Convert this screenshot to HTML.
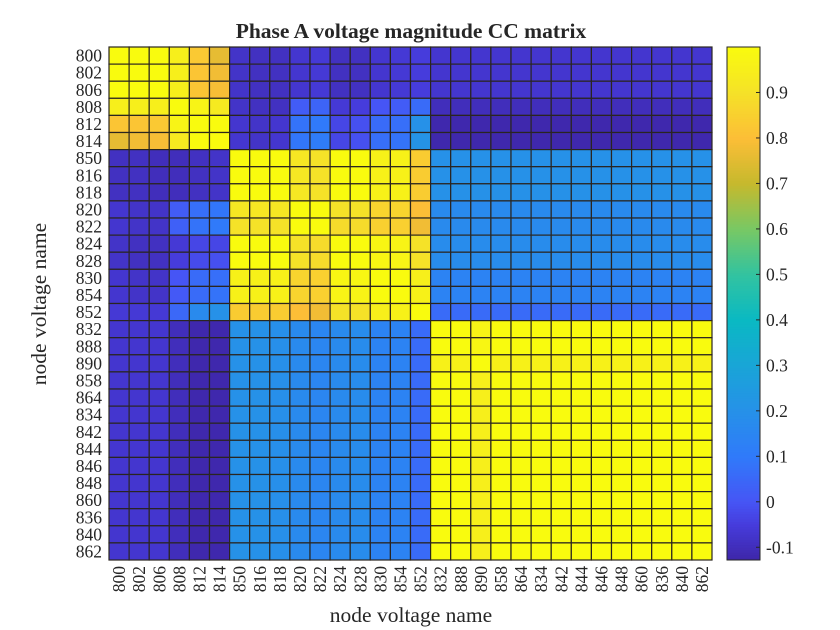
<!DOCTYPE html>
<html><head><meta charset="utf-8"><style>
html,body{margin:0;padding:0;background:#fff;}
svg{display:block;font-family:"Liberation Serif",serif;}
</style></head><body>
<svg id="chart" width="840" height="630" viewBox="0 0 840 630" xmlns="http://www.w3.org/2000/svg">
<rect width="840" height="630" fill="#fff"/>
<text x="411" y="38" text-anchor="middle" font-size="21.5" font-weight="bold" fill="#262626">Phase A voltage magnitude CC matrix</text>
<g id="cells"></g>
<g id="ylabels"></g>
<g id="xlabels"></g>
<text x="411" y="622" text-anchor="middle" font-size="21.5" fill="#262626">node voltage name</text>
<text transform="translate(46,304) rotate(-90)" text-anchor="middle" font-size="21.5" fill="#262626">node voltage name</text>
<g id="colorbar"></g>
</svg>
<script>
const nodes = ["800","802","806","808","812","814","850","816","818","820","822","824","828","830","854","852","832","888","890","858","864","834","842","844","846","848","860","836","840","862"];
const cbTicks = [-0.1,0,0.1,0.2,0.3,0.4,0.5,0.6,0.7,0.8,0.9];
const cbTickLabels = ["-0.1","0","0.1","0.2","0.3","0.4","0.5","0.6","0.7","0.8","0.9"];
const cMin = -0.128, cMax = 1.0;
const values = [
[1,1,1,.95,.83,.76,-.08,-.09,-.09,-.07,-.06,-.09,-.09,-.07,-.06,-.05,-.07,-.07,-.07,-.07,-.07,-.07,-.07,-.07,-.07,-.07,-.07,-.07,-.07,-.07],
[1,1,1,.95,.82,.78,-.08,-.09,-.09,-.07,-.06,-.09,-.09,-.07,-.06,-.05,-.07,-.07,-.07,-.07,-.07,-.07,-.07,-.07,-.07,-.07,-.07,-.07,-.07,-.07],
[1,1,1,.95,.82,.79,-.08,-.09,-.09,-.07,-.06,-.09,-.09,-.07,-.06,-.05,-.07,-.07,-.07,-.07,-.07,-.07,-.07,-.07,-.07,-.07,-.07,-.07,-.07,-.07],
[.95,.95,.95,1,.97,.93,-.08,-.09,-.09,.02,.04,-.06,-.05,0,.02,.06,-.1,-.1,-.1,-.1,-.1,-.1,-.1,-.1,-.1,-.1,-.1,-.1,-.1,-.1],
[.82,.82,.83,.97,1,1,-.07,-.08,-.07,.08,.1,-.03,-.01,.06,.07,.2,-.12,-.12,-.12,-.12,-.12,-.12,-.12,-.12,-.12,-.12,-.12,-.12,-.12,-.12],
[.76,.78,.79,.93,1,1,-.07,-.08,-.07,.09,.11,-.03,-.01,.07,.08,.21,-.12,-.12,-.12,-.12,-.12,-.12,-.12,-.12,-.12,-.12,-.12,-.12,-.12,-.12],
[-.09,-.09,-.1,-.1,-.09,-.08,1,1,1,.92,.9,1,1,.96,.96,.84,.2,.2,.2,.2,.2,.2,.2,.2,.2,.2,.2,.2,.2,.2],
[-.09,-.09,-.1,-.1,-.09,-.08,1,1,1,.92,.9,1,1,.96,.96,.84,.2,.2,.2,.2,.2,.2,.2,.2,.2,.2,.2,.2,.2,.2],
[-.09,-.09,-.1,-.1,-.09,-.08,1,1,1,.92,.9,1,1,.96,.96,.84,.2,.2,.2,.2,.2,.2,.2,.2,.2,.2,.2,.2,.2,.2],
[-.07,-.08,-.08,.02,.07,.09,.92,.92,.92,1,1,.9,.9,.86,.86,.8,.17,.17,.17,.17,.17,.17,.17,.17,.17,.17,.17,.17,.17,.17],
[-.07,-.08,-.08,.03,.08,.1,.9,.9,.9,1,1,.88,.88,.85,.85,.78,.17,.17,.17,.17,.17,.17,.17,.17,.17,.17,.17,.17,.17,.17],
[-.08,-.09,-.09,-.06,-.03,-.03,1,1,1,.9,.88,1,1,.98,.97,.9,.18,.18,.18,.18,.18,.18,.18,.18,.18,.18,.18,.18,.18,.18],
[-.08,-.09,-.09,-.05,-.02,-.01,1,1,1,.9,.88,1,1,.98,.97,.9,.18,.18,.18,.18,.18,.18,.18,.18,.18,.18,.18,.18,.18,.18],
[-.07,-.08,-.08,0,.06,.07,.96,.96,.96,.86,.85,.98,.98,1,1,.95,.14,.14,.14,.14,.14,.14,.14,.14,.14,.14,.14,.14,.14,.14],
[-.07,-.08,-.08,.01,.06,.08,.96,.96,.96,.86,.85,.97,.97,1,1,.96,.14,.14,.14,.14,.14,.14,.14,.14,.14,.14,.14,.14,.14,.14],
[-.06,-.06,-.06,.05,.17,.2,.84,.84,.84,.8,.78,.9,.9,.95,.96,1,.06,.06,.06,.06,.06,.06,.06,.06,.06,.06,.06,.06,.06,.06],
[-.07,-.07,-.07,-.1,-.12,-.12,.2,.2,.19,.17,.15,.17,.18,.14,.14,.06,1,1,.97,1,1,1,1,1,1,1,1,1,1,1],
[-.07,-.07,-.07,-.1,-.12,-.12,.2,.2,.19,.17,.15,.17,.18,.14,.14,.06,1,1,.98,1,1,1,1,1,1,1,1,1,1,1],
[-.07,-.07,-.07,-.1,-.12,-.12,.2,.2,.19,.17,.15,.17,.18,.14,.14,.06,.96,.96,1,.96,.96,.96,.96,.96,.96,.96,.96,.96,.96,.96],
[-.07,-.07,-.07,-.1,-.12,-.12,.2,.2,.19,.17,.15,.17,.18,.14,.14,.06,1,1,.95,1,1,1,1,1,1,1,1,1,1,1],
[-.07,-.07,-.07,-.1,-.12,-.12,.2,.2,.19,.17,.15,.17,.18,.14,.14,.06,1,1,.95,1,1,1,1,1,1,1,1,1,1,1],
[-.07,-.07,-.07,-.1,-.12,-.12,.2,.2,.19,.17,.15,.17,.18,.14,.14,.06,1,1,.95,1,1,1,1,1,1,1,1,1,1,1],
[-.07,-.07,-.07,-.1,-.12,-.12,.2,.2,.19,.17,.15,.17,.18,.14,.14,.06,1,1,.95,1,1,1,1,1,1,1,1,1,1,1],
[-.07,-.07,-.07,-.1,-.12,-.12,.2,.2,.19,.17,.15,.17,.18,.14,.14,.06,1,1,.95,1,1,1,1,1,1,1,1,1,1,1],
[-.07,-.07,-.07,-.1,-.12,-.12,.2,.2,.19,.17,.15,.17,.18,.14,.14,.06,1,1,.95,1,1,1,1,1,1,1,1,1,1,1],
[-.07,-.07,-.07,-.1,-.12,-.12,.2,.2,.19,.17,.15,.17,.18,.14,.14,.06,1,1,.95,1,1,1,1,1,1,1,1,1,1,1],
[-.07,-.07,-.07,-.1,-.12,-.12,.2,.2,.19,.17,.15,.17,.18,.14,.14,.06,1,1,.95,1,1,1,1,1,1,1,1,1,1,1],
[-.07,-.07,-.07,-.1,-.12,-.12,.2,.2,.19,.17,.15,.17,.18,.14,.14,.06,1,1,.95,1,1,1,1,1,1,1,1,1,1,1],
[-.07,-.07,-.07,-.1,-.12,-.12,.2,.2,.19,.17,.15,.17,.18,.14,.14,.06,1,1,.95,1,1,1,1,1,1,1,1,1,1,1],
[-.07,-.07,-.07,-.1,-.12,-.12,.2,.2,.19,.17,.15,.17,.18,.14,.14,.06,1,1,.95,1,1,1,1,1,1,1,1,1,1,1]
];
const NS = "http://www.w3.org/2000/svg";
const plotL = 109, plotR = 712, plotT = 47, plotB = 560;
const n = nodes.length;
const cw = (plotR - plotL) / n, ch = (plotB - plotT) / n;
function xPos(i){ return plotL + i * cw; }
function yPos(i){ return plotT + i * ch; }
const stops = [
[-0.128,62,38,168],[-0.05,70,60,220],[0,70,85,245],[0.1,48,122,250],[0.2,38,145,232],
[0.3,25,165,215],[0.4,10,185,195],[0.5,50,195,160],[0.6,120,200,100],[0.7,198,185,45],
[0.8,252,190,55],[0.9,245,226,40],[1.0,249,251,14]];
function color(v){
  if (v <= stops[0][0]) return `rgb(${stops[0][1]},${stops[0][2]},${stops[0][3]})`;
  for (let k = 1; k < stops.length; k++){
    if (v <= stops[k][0]){
      const a = stops[k-1], b = stops[k], t = (v - a[0]) / (b[0] - a[0]);
      return `rgb(${Math.round(a[1]+(b[1]-a[1])*t)},${Math.round(a[2]+(b[2]-a[2])*t)},${Math.round(a[3]+(b[3]-a[3])*t)})`;
    }
  }
  const l = stops[stops.length-1];
  return `rgb(${l[1]},${l[2]},${l[3]})`;
}
const cells = document.getElementById('cells');
for (let r = 0; r < n; r++){
  for (let c = 0; c < n; c++){
    const el = document.createElementNS(NS, 'rect');
    el.setAttribute('x', xPos(c)); el.setAttribute('y', yPos(r));
    el.setAttribute('width', cw); el.setAttribute('height', ch);
    el.setAttribute('fill', color(values[r][c]));
    el.setAttribute('stroke', '#2a2520'); el.setAttribute('stroke-width', '1.2');
    
    
    cells.appendChild(el);
  }
}
const yl = document.getElementById('ylabels'), xl = document.getElementById('xlabels');
for (let i = 0; i < n; i++){
  const t = document.createElementNS(NS, 'text');
  t.setAttribute('x', plotL - 7); t.setAttribute('y', yPos(i) + ch/2 + 6);
  t.setAttribute('text-anchor', 'end'); t.setAttribute('font-size', '17.5'); t.setAttribute('fill', '#262626');
  t.textContent = nodes[i];
  
  
  yl.appendChild(t);
  const u = document.createElementNS(NS, 'text');
  const cx = xPos(i) + cw/2 + 6;
  u.setAttribute('transform', `translate(${cx},${plotB + 6}) rotate(-90)`);
  u.setAttribute('text-anchor', 'end'); u.setAttribute('font-size', '17.5'); u.setAttribute('fill', '#262626');
  u.textContent = nodes[i];
  
  
  xl.appendChild(u);
}
const cb = document.getElementById('colorbar');
const cbL = 727, cbR = 760, cbT = 47, cbB = 560;
function cbY(v){ return cbB - (v - cMin) / (cMax - cMin) * (cbB - cbT); }
for (let k = 0; k < 200; k++){
  const v0 = cMin + (cMax - cMin) * k / 200, v1 = cMin + (cMax - cMin) * (k + 1) / 200;
  const r = document.createElementNS(NS, 'rect');
  r.setAttribute('x', cbL); r.setAttribute('y', cbY(v1)); r.setAttribute('width', cbR - cbL);
  r.setAttribute('height', cbY(v0) - cbY(v1) + 0.5); r.setAttribute('fill', color((v0 + v1) / 2));
  cb.appendChild(r);
}
const frame = document.createElementNS(NS, 'rect');
frame.setAttribute('x', cbL); frame.setAttribute('y', cbT); frame.setAttribute('width', cbR - cbL); frame.setAttribute('height', cbB - cbT);
frame.setAttribute('fill', 'none'); frame.setAttribute('stroke', '#262626'); frame.setAttribute('stroke-width', '1');


cb.appendChild(frame);
for (let k = 0; k < cbTicks.length; k++){
  const y = cbY(cbTicks[k]);
  const tk = document.createElementNS(NS, 'line');
  tk.setAttribute('x1', cbR - 4); tk.setAttribute('x2', cbR); tk.setAttribute('y1', y); tk.setAttribute('y2', y);
  tk.setAttribute('stroke', '#262626');
  cb.appendChild(tk);
  const tl = document.createElementNS(NS, 'text');
  tl.setAttribute('x', cbR + 6); tl.setAttribute('y', y + 6); tl.setAttribute('font-size', '17.5'); tl.setAttribute('fill', '#262626');
  tl.textContent = cbTickLabels[k];
  
  
  cb.appendChild(tl);
}
</script>
</body></html>
